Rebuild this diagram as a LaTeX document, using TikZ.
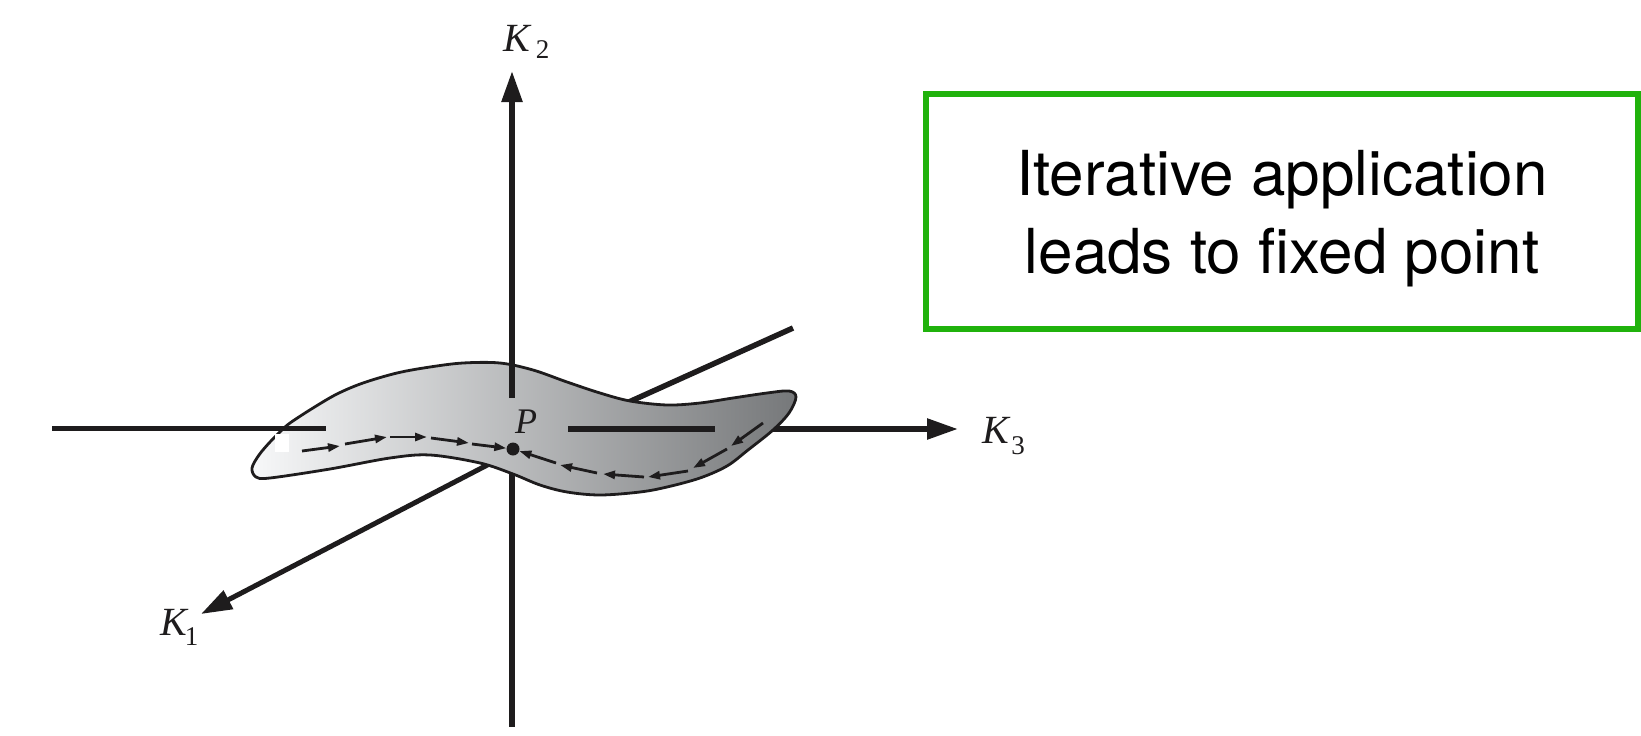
\documentclass[tikz,border=0pt]{standalone}
\usepackage{fontspec}
\newfontfamily\helv{TeX Gyre Heros}
\newfontfamily\tms{Liberation Serif}
\usetikzlibrary{arrows.meta}
\definecolor{boxgreen}{RGB}{32,178,12}
\definecolor{surfL}{RGB}{247,248,249}
\definecolor{surfR}{RGB}{118,120,122}
\definecolor{ink}{RGB}{30,28,29}
\begin{document}
\begin{tikzpicture}[x=1pt,y=-1pt,
  axis/.style={line width=5.5pt, draw=ink},
  bigtip/.style={-{Triangle[length=31pt,width=20pt]}},
  traj/.style={line width=2.8pt, draw=ink, -{Triangle[length=12pt,width=8pt]}},
  lbl/.style={font=\tms\fontsize{40}{40}\selectfont\itshape, inner sep=0pt, anchor=base west, text=ink},
  surface/.style={draw=ink, line width=2.8pt, left color=surfL, right color=surfR},
  boxstyle/.style={draw=boxgreen, line width=6pt, minimum width=712pt, minimum height=235pt, inner sep=0pt},
  boxtext/.style={font=\helv\fontsize{62}{78}\selectfont, align=center, inner sep=0pt, text=black}
]
\useasboundingbox (0,0) rectangle (1641,736);

% coordinates of axes
\coordinate (k2top) at (512,71);
\coordinate (k2up) at (512,398);
\coordinate (k2lo) at (512,465);
\coordinate (k2bot) at (512,727);
\coordinate (k3l) at (52,428.5);
\coordinate (k3lend) at (326,428.5);
\coordinate (k3ma) at (568,429);
\coordinate (k3mb) at (715,429);
\coordinate (k3ra) at (765,429);
\coordinate (k3tip) at (958,429);
\coordinate (k1tip) at (201,614);
\coordinate (k1fa) at (495,461);
\coordinate (k1ba) at (620,406);
\coordinate (k1bb) at (793,328);

% back lines (partly hidden by surface)
\draw[axis] (k1ba) -- (k1bb);
\draw[axis, line width=5pt, bigtip] (k1fa) -- (k1tip);
\draw[axis] (k2lo) -- (k2bot);
\draw[axis, bigtip] (k3ra) -- (k3tip);

% surface
\path[surface] plot[smooth cycle, tension=0.55] coordinates {
 (290,423) (313,408) (337,394) (363,383) (397,373) (430,367) (463,363)
 (500,363) (533,370) (567,382) (600,393) (630,401) (667,405) (700,403)
 (733,398) (767,393) (789,391) (796,397) (789,413) (773,430) (748,450)
 (727,466) (700,478) (667,487) (640,492) (600,495) (567,492) (540,485)
 (513,474) (480,463) (430,455) (390,458) (330,469) (270,478) (256,477)
 (252,468) (259,455) (270,442) (281,431)};
\fill[white] (275,434) rectangle (289,452);

% front lines
\draw[axis] (k3l) -- (k3lend);
\draw[axis, line width=6.5pt] (k3ma) -- (k3mb);
\draw[axis, bigtip] (k2up) -- (k2top);

% fixed point
\node[circle, fill=ink, inner sep=0pt, minimum size=13pt] (P) at (513,449) {};
\node[lbl, font=\tms\fontsize{36}{36}\selectfont\itshape] (plab) at (515,433) {P};

% trajectory from the left
\coordinate (a0) at (302,451); \coordinate (a1) at (340,446);
\coordinate (a2) at (345,444); \coordinate (a3) at (387,437);
\coordinate (a4) at (390,437); \coordinate (a5) at (427,437);
\coordinate (a6) at (431,438); \coordinate (a7) at (469,443);
\coordinate (a8) at (472,444);
\draw[traj] (a0) -- (a1);
\draw[traj] (a2) -- (a3);
\draw[traj] (a4) -- (a5);
\draw[traj] (a6) -- (a7);
\draw[traj] (a8) -- (P);

% trajectory from the right
\coordinate (b0) at (763,423); \coordinate (b1) at (731,446);
\coordinate (b2) at (727,449); \coordinate (b3) at (693,468);
\coordinate (b4) at (688,471); \coordinate (b5) at (648,477);
\coordinate (b6) at (644,477); \coordinate (b7) at (603,474);
\coordinate (b8) at (597,473); \coordinate (b9) at (560,465);
\coordinate (b10) at (556,463);
\draw[traj] (b0) -- (b1);
\draw[traj] (b2) -- (b3);
\draw[traj] (b4) -- (b5);
\draw[traj] (b6) -- (b7);
\draw[traj] (b8) -- (b9);
\draw[traj] (b10) -- (P);

% axis labels
\node[lbl] (k2lab) at (503,51) {K\kern6pt\raisebox{-7pt}{\tms\fontsize{27}{27}\selectfont\upshape 2}};
\node[lbl] (k3lab) at (982,443) {K\kern2.5pt\raisebox{-11pt}{\tms\fontsize{27}{27}\selectfont\upshape 3}};
\node[lbl] (k1lab) at (160,635) {K\kern-2pt\raisebox{-10pt}{\tms\fontsize{27}{27}\selectfont\upshape 1}};

% green box
\node[boxstyle] (box) at (1282,211.7) {};
\node[boxtext] (txt) at ([yshift=-7pt]box.center) {Iterative application\\leads to fixed point};
\end{tikzpicture}
\end{document}
